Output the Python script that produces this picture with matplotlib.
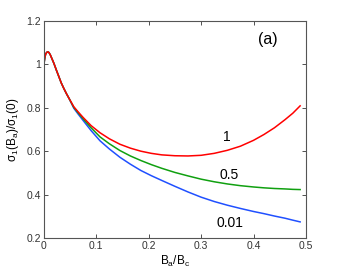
import numpy as np
import matplotlib
matplotlib.use('Agg')
import matplotlib.pyplot as plt

plt.rcParams['font.family'] = ['Liberation Sans', 'DejaVu Sans']
plt.rcParams['mathtext.fontset'] = 'custom'
plt.rcParams['mathtext.rm'] = 'Liberation Sans'

# shared low-field part (all three curves coincide)
x_common = [0.0, 0.001, 0.002, 0.0035, 0.0055, 0.0076, 0.0095, 0.012, 0.015,
            0.019, 0.024, 0.0286, 0.033, 0.038, 0.043, 0.048]
y_common = [1.0, 1.02, 1.035, 1.049, 1.056, 1.058, 1.055, 1.045, 1.028,
            1.005, 0.972, 0.943, 0.915, 0.889, 0.865, 0.843]

x_tail = [0.057, 0.065, 0.075, 0.09, 0.107, 0.125, 0.145, 0.165, 0.185, 0.205,
          0.225, 0.25, 0.275, 0.30, 0.325, 0.35, 0.375, 0.40, 0.42, 0.44,
          0.46, 0.475, 0.489]
y_red = [0.805, 0.782, 0.755, 0.718, 0.685, 0.657, 0.632, 0.614, 0.600, 0.590,
         0.583, 0.579, 0.578, 0.581, 0.590, 0.604, 0.623, 0.650, 0.677, 0.708,
         0.745, 0.775, 0.809]
y_green = [0.802, 0.778, 0.749, 0.708, 0.666, 0.634, 0.603, 0.578, 0.557, 0.538,
           0.521, 0.502, 0.486, 0.471, 0.459, 0.449, 0.441, 0.435, 0.431, 0.428,
           0.426, 0.424, 0.423]
y_blue = [0.798, 0.772, 0.741, 0.695, 0.648, 0.610, 0.572, 0.540, 0.511, 0.487,
          0.465, 0.438, 0.412, 0.388, 0.368, 0.351, 0.336, 0.322, 0.312, 0.301,
          0.291, 0.282, 0.274]

labels = ['0.01', '0.5', '1']
label_pos = [(0.355, 0.27), (0.353, 0.49), (0.35, 0.665)]
colors = ['#2050ff', '#10a010', '#ff0000']

fig = plt.figure(figsize=(3.38, 2.77), dpi=100)
ax = fig.add_axes([0.130, 0.141, 0.775, 0.783])

for yt, c in zip([y_blue, y_green, y_red], colors):
    ax.plot(x_common + x_tail, y_common + yt, color=c, lw=1.1)

for lab, (lx, ly) in zip(labels, label_pos):
    ax.text(lx, ly, lab, fontsize=10, ha='center', va='center')

ax.text(0.427, 1.115, '(a)', fontsize=11.5, ha='center', va='center')

ax.set_xlim(0, 0.5)
ax.set_ylim(0.2, 1.2)
ax.set_xticks([0, 0.1, 0.2, 0.3, 0.4, 0.5])
ax.set_xticklabels(['0', '0.1', '0.2', '0.3', '0.4', '0.5'])
ax.set_yticks([0.2, 0.4, 0.6, 0.8, 1.0, 1.2])
ax.set_yticklabels(['0.2', '0.4', '0.6', '0.8', '1', '1.2'])
ax.tick_params(direction='in', top=True, right=True, length=3, width=0.6,
               labelsize=7.5, colors='#333333', pad=2)
for s in ax.spines.values():
    s.set_color('#555555')
    s.set_linewidth(0.8)

ax.set_xlabel(r'$\mathregular{B_a/B_c}$', fontsize=8.5, labelpad=2)
ax.set_ylabel(r'$\mathregular{\sigma_1(B_a)/\sigma_1(0)}$', fontsize=8.5, labelpad=4)

fig.savefig('out.png', dpi=100)
